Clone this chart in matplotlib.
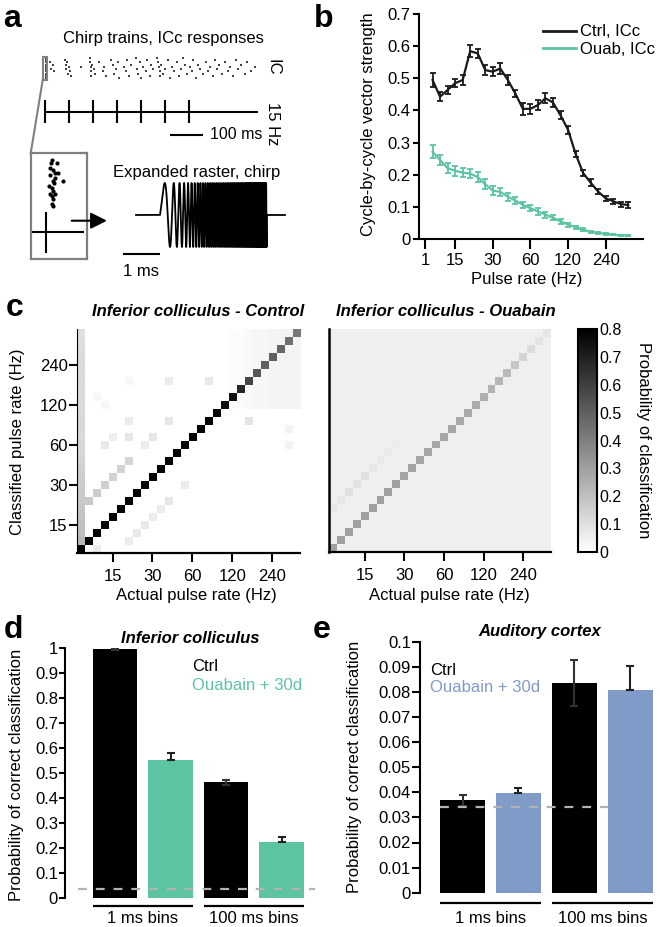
import numpy as np
import matplotlib.pyplot as plt
from matplotlib.lines import Line2D
from matplotlib.patches import Rectangle, FancyArrowPatch
import matplotlib.transforms as mtransforms

plt.rcParams['font.family'] = ['Liberation Sans', 'DejaVu Sans']
plt.rcParams['font.size'] = 12
plt.rcParams['axes.linewidth'] = 1.5

W, H = 660, 927
GREEN = '#5cc3a3'
BLUE = '#809bc8'
GREY = '#808080'

# ---------------- data ----------------
# a: ICc raster to the chirp train (time in ms, trial)
raster_ms = [2, 3, 2, 4, 2, 3, 2, 3, 4, 2, 15, 17, 25, 27,
             60, 63, 65, 68, 70, 72, 75, 78, 110,
             135, 137, 138, 140, 139, 142, 150, 152, 165, 175, 180, 185,
             200, 205, 210, 215, 220, 225, 240, 245, 250, 255, 262,
             275, 278, 282, 288, 292, 298, 305, 310, 318, 322, 328,
             340, 343, 345, 347, 350, 352, 358, 365, 372, 378, 385, 390,
             400, 405, 412, 418, 425, 430, 440, 445, 450, 458, 465, 470,
             480, 488, 495, 500, 508, 515, 520, 528, 535, 545,
             555, 562, 570, 578, 585, 595, 605, 612, 625, 635]
raster_trial = [0, 1, 2, 3, 4, 5, 6, 7, 8, 9, 2, 5, 3, 6,
                1, 3, 5, 2, 7, 4, 6, 8, 4,
                0, 2, 4, 6, 8, 3, 5, 7, 2, 6, 4, 8,
                1, 3, 7, 5, 2, 9, 4, 6, 1, 8, 3,
                0, 5, 7, 2, 9, 4, 6, 1, 8, 3, 5,
                0, 2, 4, 6, 8, 3, 7, 5, 1, 9, 4, 6,
                2, 8, 5, 0, 3, 7, 4, 6, 1, 9, 3, 5,
                7, 2, 6, 4, 8, 1, 5, 3, 7, 2,
                6, 4, 8, 1, 5, 3, 7, 2, 6, 4]
pulse_ms = [0, 73, 145, 217, 291, 364, 436]
train_end_ms = 645
# expanded raster of the first chirp (latency ms, trial)
exp_ms = [0.16, 0.14, 0.30, 0.12, 0.21, 0.25, 0.34, 0.12, 0.25, 0.19, 0.48,
          0.22, 0.10, 0.16, 0.21, 0.12, 0.25, 0.16, 0.21, 0.16, 0.19]
exp_trial = [1, 2, 2, 4, 5, 6, 6, 7, 8, 9, 9, 10, 11, 12, 13, 14, 14, 15, 16, 18, 19]
chirp_dur_ms = 2.86
chirp_f0_khz = 1.2
chirp_f1_khz = 35.0

# b: cycle-by-cycle vector strength
rate_idx = list(range(1, 28))
ctrl_vs = [0.495, 0.443, 0.464, 0.485, 0.495, 0.585, 0.578, 0.526, 0.521, 0.531,
           0.495, 0.453, 0.405, 0.405, 0.417, 0.438, 0.425, 0.385, 0.340, 0.265,
           0.205, 0.175, 0.147, 0.126, 0.117, 0.108, 0.105]
ctrl_vs_err = [0.022, 0.015, 0.012, 0.013, 0.015, 0.018, 0.015, 0.015, 0.015, 0.018,
               0.015, 0.012, 0.018, 0.015, 0.015, 0.015, 0.015, 0.013, 0.012, 0.010,
               0.010, 0.010, 0.009, 0.008, 0.008, 0.008, 0.010]
oua_vs = [0.271, 0.245, 0.220, 0.212, 0.206, 0.203, 0.192, 0.170, 0.150, 0.146,
          0.131, 0.119, 0.106, 0.095, 0.085, 0.075, 0.065, 0.054, 0.044, 0.036,
          0.028, 0.022, 0.018, 0.015, 0.012, 0.011, 0.010]
oua_vs_err = [0.020, 0.015, 0.015, 0.015, 0.015, 0.015, 0.015, 0.015, 0.013, 0.013,
              0.012, 0.012, 0.010, 0.010, 0.010, 0.009, 0.008, 0.007, 0.006, 0.005,
              0.004, 0.003, 0.003, 0.002, 0.002, 0.002, 0.002]
rate_tick_idx = [0, 4, 9, 14, 19, 24]
rate_tick_lab = ['1', '15', '30', '60', '120', '240']

# c: confusion matrices (28 pulse rates)
n_rates = 28
c_xtick_idx = [4, 9, 14, 19, 24]
c_ytick_idx = [3, 8, 13, 18, 23]
c_tick_lab = ['15', '30', '60', '120', '240']
ctrl_diag = [0.85, 0.80, 0.80, 0.80, 0.80, 0.80, 0.80, 0.80, 0.80, 0.80,
             0.80, 0.80, 0.80, 0.80, 0.80, 0.80, 0.80, 0.78, 0.76, 0.74,
             0.68, 0.58, 0.53, 0.50, 0.50, 0.48, 0.45, 0.42]
ctrl_col0 = [0.22, 0.20, 0.20, 0.19, 0.18, 0.17, 0.17, 0.16, 0.16, 0.15,
             0.14, 0.13, 0.13, 0.12, 0.12, 0.13, 0.12, 0.12, 0.11, 0.11,
             0.12, 0.11, 0.12, 0.11, 0.11, 0.10, 0.10]
ctrl_up_cols = [1, 2, 3, 4, 5, 6, 8, 9, 11]
ctrl_up_vals = [0.17, 0.16, 0.15, 0.14, 0.14, 0.13, 0.06, 0.08, 0.08]
ctrl_dn_cols = [6, 7, 8, 9, 10, 11, 13]
ctrl_dn_vals = [0.06, 0.07, 0.07, 0.06, 0.06, 0.08, 0.06]
ctrl_spot_col = [2, 3, 4, 6, 6, 3, 2, 6, 11, 16, 21, 26, 26]
ctrl_spot_row = [0, 13, 14, 14, 16, 18, 19, 21, 21, 21, 16, 15, 13]
ctrl_spot_val = [0.06, 0.07, 0.05, 0.08, 0.06, 0.03, 0.03, 0.03, 0.06, 0.07, 0.09, 0.04, 0.04]
# faint wash in the top-right corner, per column (cols 19..27, rows 18..27)
ctrl_corner_cols = [19, 20, 21, 22, 23, 24, 25, 26, 27]
ctrl_corner_vals = [0.010, 0.015, 0.020, 0.025, 0.030, 0.035, 0.040, 0.040, 0.035]
ctrl_corner_row_from = 18
oua_bg = 0.05
oua_diag = [0.30, 0.30, 0.30, 0.30, 0.30, 0.30, 0.30, 0.30, 0.30, 0.29,
            0.29, 0.28, 0.28, 0.28, 0.28, 0.28, 0.27, 0.27, 0.26, 0.25,
            0.24, 0.23, 0.22, 0.18, 0.14, 0.11, 0.09, 0.08]
oua_up_cols = [0, 1, 2, 3, 4, 5, 6, 7, 8]
oua_up_vals = [0.08, 0.08, 0.10, 0.09, 0.10, 0.08, 0.07, 0.07, 0.06]
cbar_ticks = [0, 0.1, 0.2, 0.3, 0.4, 0.5, 0.6, 0.7, 0.8]
cbar_labs = ['0', '0.1', '0.2', '0.3', '0.4', '0.5', '0.6', '0.7', '0.8']

# d: inferior colliculus decoding
d_ctrl = [0.996, 0.463]
d_ctrl_err = [0.003, 0.010]
d_oua = [0.552, 0.222]
d_oua_err = [0.028, 0.020]
d_chance = 0.034
# e: auditory cortex decoding
e_ctrl = [0.0368, 0.0834]
e_ctrl_err = [0.0023, 0.0092]
e_oua = [0.0396, 0.0807]
e_oua_err = [0.0020, 0.0097]
e_chance = 0.0343
bin_labels = ['1 ms bins', '100 ms bins']


def rect(x0, y0, x1, y1):
    return [x0 / W, 1 - y1 / H, (x1 - x0) / W, (y1 - y0) / H]


def fxy(x, y):
    return (x / W, 1 - y / H)


fig = plt.figure(figsize=(6.6, 9.27), dpi=100)


def ftext(x, y, s, **kw):
    fig.text(x / W, 1 - y / H, s, **kw)


# ---------------- a ----------------
ms_xlim = (-6.06, 657.6)
ax_ras = fig.add_axes(rect(43, 56, 262, 81))
ax_ras.scatter(raster_ms, raster_trial, s=1.3, marker='s', color='#444444', lw=0)
ax_ras.set_xlim(ms_xlim)
ax_ras.set_ylim(10.36, -0.9)
ax_ras.axis('off')

ax_tr = fig.add_axes(rect(43, 95, 262, 145))
ax_tr.plot([0, train_end_ms], [0, 0], color='k', lw=1.5, solid_capstyle='butt')
ax_tr.vlines(pulse_ms, -0.65, 0.7, color='k', lw=1.5)
ax_tr.plot([379, 479], [-1.35, -1.35], color='k', lw=1.5, solid_capstyle='butt')
ax_tr.text(500, -1.35, '100 ms', ha='left', va='center', fontsize=11.5)
ax_tr.set_xlim(ms_xlim)
ax_tr.set_ylim(-1.94, 1.0)
ax_tr.axis('off')

ftext(273, 67, 'IC', rotation=-90, ha='center', va='center', fontsize=12)
ftext(273, 124, '15 Hz', rotation=-90, ha='center', va='center', fontsize=12)
ftext(163.5, 43.5, 'Chirp trains, ICc responses', ha='center', va='baseline', fontsize=12)

fig.add_artist(Rectangle(fxy(42.7, 80), 4.0 / W, 22.7 / H, fill=False, ec=GREY,
                         lw=1.5, transform=fig.transFigure))
fig.add_artist(Line2D([42.7 / W, 30.7 / W], [1 - 80 / H, 1 - 153.3 / H], color=GREY,
                      lw=1.5, transform=fig.transFigure))

ax_box = fig.add_axes(rect(30.7, 153.3, 87.3, 259.3))
ax_box.plot(exp_ms, exp_trial, 'o', color='k', ms=3.0, mec='none')
ax_box.plot([-0.37, 1.01], [28.9, 28.9], color='k', lw=1.5)
ax_box.plot([0, 0], [21.4, 36.8], color='k', lw=1.5)
ax_box.set_xlim(-0.405, 1.125)
ax_box.set_ylim(39.5, -1.6)
ax_box.set_xticks([])
ax_box.set_yticks([])
for sp in ax_box.spines.values():
    sp.set_color(GREY)
    sp.set_linewidth(1.6)

fig.add_artist(FancyArrowPatch(fxy(71.7, 220.7), fxy(107, 220.7), transform=fig.transFigure,
                               arrowstyle='-|>,head_length=0.7,head_width=0.35',
                               mutation_scale=14, color='k', lw=1.5, shrinkA=0, shrinkB=0))

ftext(196.7, 176.5, 'Expanded raster, chirp', ha='center', va='baseline', fontsize=12)

ax_ch = fig.add_axes(rect(120, 178, 292, 282))
t = np.linspace(0, chirp_dur_ms, 20000)
k = (chirp_f1_khz - chirp_f0_khz) / chirp_dur_ms
wave = np.sin(2 * np.pi * (chirp_f0_khz * t + 0.5 * k * t ** 2))
ax_ch.plot(np.r_[-0.643, t, chirp_dur_ms, 3.35], np.r_[0, wave, 0, 0], color='k', lw=1.3)
ax_ch.plot([-1.0, 0], [-1.22, -1.22], color='k', lw=1.5, solid_capstyle='butt')
ax_ch.text(-0.51, -1.9, '1 ms', ha='center', va='baseline', fontsize=12)
ax_ch.set_xlim(-1.072, 3.539)
ax_ch.set_ylim(-2.094, 1.156)
ax_ch.axis('off')

# ---------------- b ----------------
ax_b = fig.add_axes(rect(419, 14.3, 643.3, 238.7))
ax_b.errorbar(rate_idx, ctrl_vs, yerr=ctrl_vs_err, color='#1a1a1a', lw=1.6,
              elinewidth=1.3, capsize=2.3, capthick=1.3)
ax_b.errorbar(rate_idx, oua_vs, yerr=oua_vs_err, color=GREEN, lw=1.6,
              elinewidth=1.3, capsize=2.3, capthick=1.3)
ax_b.set_xlim(-0.8, 29.0)
ax_b.set_ylim(0, 0.7)
ax_b.set_xticks(rate_tick_idx)
ax_b.set_xticklabels(rate_tick_lab)
ax_b.set_yticks(np.arange(0, 0.71, 0.1))
ax_b.set_yticklabels(['0', '0.1', '0.2', '0.3', '0.4', '0.5', '0.6', '0.7'])
ax_b.tick_params(axis='y', direction='out', length=4.5, width=1.5, pad=1.5, labelsize=12)
ax_b.tick_params(axis='x', direction='out', length=7, width=1.5, pad=3, labelsize=12)
for s in ['top', 'right']:
    ax_b.spines[s].set_visible(False)
ax_b.legend(handles=[Line2D([], [], color='#1a1a1a', lw=2), Line2D([], [], color=GREEN, lw=2)],
            labels=['Ctrl, ICc', 'Ouab, ICc'], loc='upper left',
            bbox_to_anchor=(0.553, 0.955), frameon=False, handlelength=1.95,
            handletextpad=0.25, labelspacing=0.15, borderpad=0, borderaxespad=0, fontsize=12)
ftext(368, 124, 'Cycle-by-cycle vector strength', rotation=90, ha='center', va='center')
ftext(527, 284, 'Pulse rate (Hz)', ha='center', va='baseline')

# ---------------- c ----------------
ctrl = np.zeros((n_rates, n_rates))
for c, v in zip(ctrl_corner_cols, ctrl_corner_vals):
    ctrl[ctrl_corner_row_from:, c] = v
ctrl[1:, 0] = ctrl_col0
for c, v in zip(ctrl_up_cols, ctrl_up_vals):
    ctrl[c + 5, c] = v
for c, v in zip(ctrl_dn_cols, ctrl_dn_vals):
    ctrl[c - 5, c] = v
for c, r, v in zip(ctrl_spot_col, ctrl_spot_row, ctrl_spot_val):
    ctrl[r, c] = max(ctrl[r, c], v)
ctrl[np.arange(n_rates), np.arange(n_rates)] = ctrl_diag

oua = np.full((n_rates, n_rates), oua_bg)
for c, v in zip(oua_up_cols, oua_up_vals):
    oua[c + 5, c] = v
oua[np.arange(n_rates), np.arange(n_rates)] = oua_diag

ext = (-0.5, n_rates - 0.5, -0.5, n_rates - 0.5)
ax_c1 = fig.add_axes(rect(76.7, 329.3, 300, 553.3))
im = ax_c1.imshow(ctrl, cmap='gray_r', vmin=0, vmax=0.8, origin='lower', extent=ext,
                  aspect='auto', interpolation='nearest')
ax_c2 = fig.add_axes(rect(329, 329.3, 551, 551.7))
ax_c2.imshow(oua, cmap='gray_r', vmin=0, vmax=0.8, origin='lower', extent=ext,
             aspect='auto', interpolation='nearest')
for ax in (ax_c1, ax_c2):
    for s in ['top', 'right']:
        ax.spines[s].set_visible(False)
    ax.spines['bottom'].set_linewidth(1.6)
    ax.set_xticks(c_xtick_idx)
    ax.set_xticklabels(c_tick_lab)
    ax.tick_params(axis='x', direction='out', length=6.5, width=1.5, pad=5, labelsize=12)
ax_c1.spines['left'].set_linewidth(0.8)
ax_c1.set_yticks(c_ytick_idx)
ax_c1.set_yticklabels(c_tick_lab)
ax_c1.tick_params(axis='y', direction='out', length=5.5, width=1.5, pad=1, labelsize=12)
ax_c2.spines['left'].set_linewidth(1.8)
ax_c2.set_yticks([])

cax = fig.add_axes(rect(578.3, 329.3, 596.7, 551.7))
cb = fig.colorbar(im, cax=cax, ticks=cbar_ticks)
cb.ax.set_yticklabels(cbar_labs)
cb.outline.set_linewidth(1.5)
cax.tick_params(length=0, pad=2, labelsize=11.5)
ftext(643, 440, 'Probability of classification', rotation=270, ha='center', va='center')

ftext(198, 316, 'Inferior colliculus - Control', ha='center', va='baseline',
      fontweight='bold', fontstyle='italic')
ftext(446, 316, 'Inferior colliculus - Ouabain', ha='center', va='baseline',
      fontweight='bold', fontstyle='italic')
ftext(18, 442, 'Classified pulse rate (Hz)', rotation=90, ha='center', va='center')
ftext(196, 600, 'Actual pulse rate (Hz)', ha='center', va='baseline')
ftext(449, 600, 'Actual pulse rate (Hz)', ha='center', va='baseline')


# ---------------- d & e ----------------
def bar_panel(box, xlim, ymax, yticks, ylabs, ctrl_v, ctrl_e, oua_v, oua_e, col,
              chance, chance_x, line_y, lab_y, title, tick_len):
    ax = fig.add_axes(box)
    ax.bar([0, 2], ctrl_v, width=0.8, color='black', zorder=1)
    ax.bar([1, 3], oua_v, width=0.8, color=col, zorder=1)
    ax.errorbar([0, 2], ctrl_v, yerr=ctrl_e, fmt='none', ecolor='#333333',
                elinewidth=1.5, capsize=2.6, capthick=1.5, zorder=2)
    ax.errorbar([1, 3], oua_v, yerr=[np.zeros(len(oua_e)), oua_e], fmt='none',
                ecolor='#222222', elinewidth=1.5, capsize=2.6, capthick=1.5, zorder=2)
    ax.plot(chance_x, [chance, chance], ls=(0, (4, 4)), color='#b3b3b3', lw=1.6,
            zorder=3, clip_on=False)
    ax.set_xlim(xlim)
    ax.set_ylim(0, ymax)
    ax.set_yticks(yticks)
    ax.set_yticklabels(ylabs)
    ax.set_xticks([])
    for s in ['top', 'right', 'bottom']:
        ax.spines[s].set_visible(False)
    ax.tick_params(axis='y', direction='out', length=tick_len, width=1.5, pad=1, labelsize=12)
    tr = mtransforms.blended_transform_factory(ax.transData, ax.transAxes)
    for g, lab in zip([0, 2], bin_labels):
        ax.plot([g - 0.4, g + 1.4], [line_y, line_y], color='black', lw=1.6,
                transform=tr, clip_on=False, solid_capstyle='butt')
        ax.text(g + 0.5, lab_y, lab, transform=tr, ha='center', va='baseline', fontsize=12)
    ax.set_title(title, fontweight='bold', fontstyle='italic', fontsize=12, pad=4)
    return ax


ax_d = bar_panel(rect(65, 648.3, 315, 897.7), (-0.9, 3.6), 1.0, np.arange(0, 1.01, 0.1),
                 ['0', '0.1', '0.2', '0.3', '0.4', '0.5', '0.6', '0.7', '0.8', '0.9', '1'],
                 d_ctrl, d_ctrl_err, d_oua, d_oua_err, GREEN, d_chance, [-0.66, 3.6],
                 -0.032, -0.101, 'Inferior colliculus', 4)
ax_e = bar_panel(rect(420, 641.7, 660, 892.7), (-0.76, 3.53), 0.1, np.arange(0, 0.101, 0.01),
                 ['0', '0.01', '0.02', '0.03', '0.04', '0.05', '0.06', '0.07', '0.08', '0.09', '0.1'],
                 e_ctrl, e_ctrl_err, e_oua, e_oua_err, BLUE, e_chance, [-0.4, 2.6],
                 -0.042, -0.121, 'Auditory cortex', 5.5)
ftext(16.5, 775, 'Probability of correct classification', rotation=90, ha='center', va='center')
ftext(355, 767, 'Probability of correct classification', rotation=90, ha='center', va='center')
ftext(191.7, 671, 'Ctrl', ha='left', va='baseline', color='black')
ftext(191.7, 689.5, 'Ouabain + 30d', ha='left', va='baseline', color=GREEN)
ftext(430, 675, 'Ctrl', ha='left', va='baseline', color='black')
ftext(430, 691.5, 'Ouabain + 30d', ha='left', va='baseline', color=BLUE)

# panel letters
for x, y, s in [(3, 27, 'a'), (314, 27, 'b'), (6, 316.5, 'c'), (4, 638, 'd'), (313, 638, 'e')]:
    ftext(x, y, s, fontsize=23, fontweight='bold', va='baseline', ha='left')

fig.savefig('out.png', dpi=100)
